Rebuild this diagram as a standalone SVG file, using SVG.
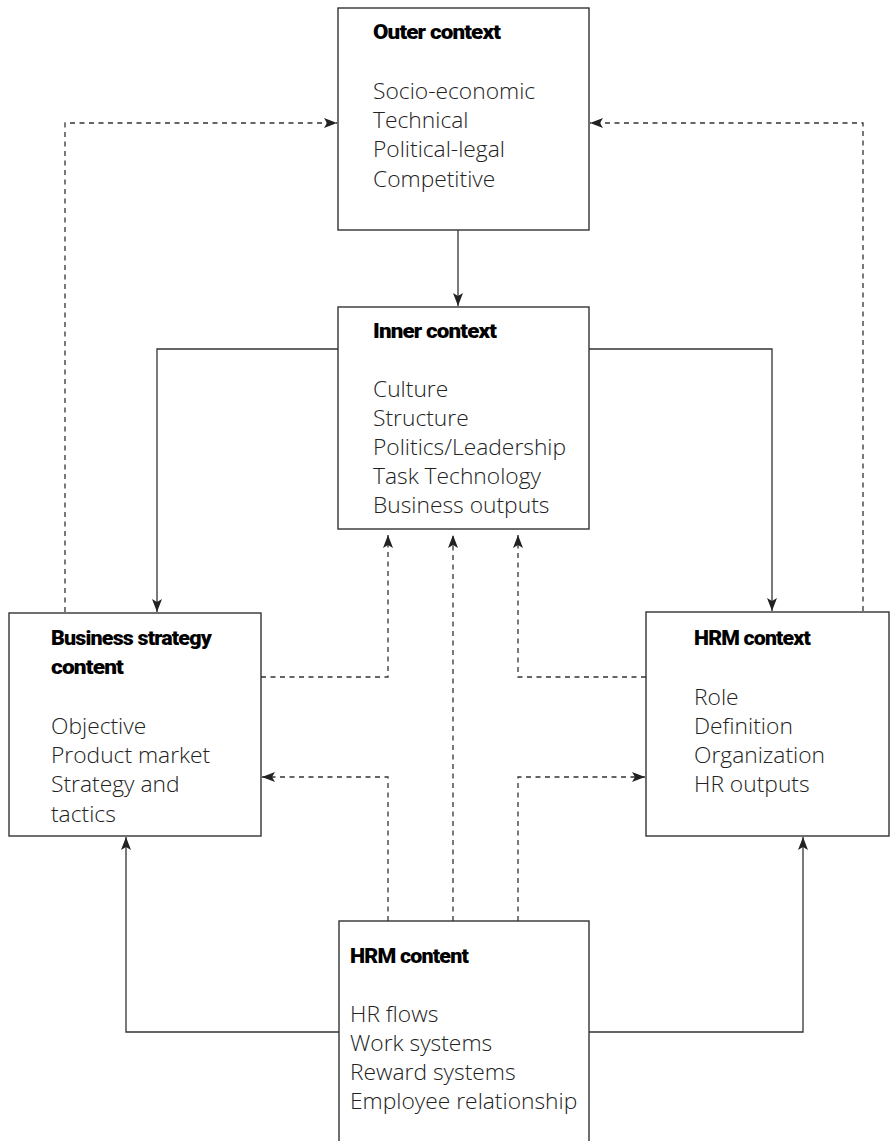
<svg xmlns="http://www.w3.org/2000/svg" width="890" height="1141" viewBox="0 0 890 1141">
<defs>
<style>
.box{fill:#fff;stroke:#333;stroke-width:1.4}
.t{font-family:Roboto,"Liberation Sans",sans-serif;font-weight:900;font-size:21px;fill:#000;letter-spacing:-0.8px}
.b{font-family:"Open Sans","Noto Sans",sans-serif;font-weight:300;font-size:22.8px;fill:#222}
.s{fill:none;stroke:#333;stroke-width:1.3}
.d{fill:none;stroke:#333;stroke-width:1.3;stroke-dasharray:5 4.5}
</style>
<marker id="ah" viewBox="0 0 13 10" refX="13" refY="5" markerWidth="13" markerHeight="10" markerUnits="userSpaceOnUse" orient="auto">
<path d="M0,0 L13,5 L0,10 L3,5 Z" fill="#222"/>
</marker>
</defs>
<rect width="890" height="1141" fill="#fff"/>
<g id="connectors">
<path class="s" d="M458,230 V306" marker-end="url(#ah)"/>
<path class="s" d="M338,349 H157 V612" marker-end="url(#ah)"/>
<path class="s" d="M589,349 H772 V611" marker-end="url(#ah)"/>
<path class="d" d="M65,612 V123 H337" marker-end="url(#ah)"/>
<path class="d" d="M863,611 V123 H590" marker-end="url(#ah)"/>
<path class="d" d="M261,677 H388 V535" marker-end="url(#ah)"/>
<path class="d" d="M646,677 H518 V535" marker-end="url(#ah)"/>
<path class="d" d="M453,921 V535" marker-end="url(#ah)"/>
<path class="d" d="M388,921 V777 H262" marker-end="url(#ah)"/>
<path class="d" d="M518,921 V777 H645" marker-end="url(#ah)"/>
<path class="s" d="M339,1032 H126 V837" marker-end="url(#ah)"/>
<path class="s" d="M589,1032 H803 V837" marker-end="url(#ah)"/>
</g>
<g id="outer-context">
<rect class="box" x="338" y="8" width="251" height="222"/>
<text class="t" x="373" y="39" textLength="127" lengthAdjust="spacingAndGlyphs">Outer context</text>
<text class="b" x="373" y="99">Socio-economic</text>
<text class="b" x="373" y="128">Technical</text>
<text class="b" x="373" y="157">Political-legal</text>
<text class="b" x="373" y="187">Competitive</text>
</g>
<g id="inner-context">
<rect class="box" x="338" y="307" width="251" height="222"/>
<text class="t" x="373" y="338" textLength="123" lengthAdjust="spacingAndGlyphs">Inner context</text>
<text class="b" x="373" y="397">Culture</text>
<text class="b" x="373" y="426">Structure</text>
<text class="b" x="373" y="455">Politics/Leadership</text>
<text class="b" x="373" y="484">Task Technology</text>
<text class="b" x="373" y="513">Business outputs</text>
</g>
<g id="business-strategy">
<rect class="box" x="9" y="613" width="252" height="223"/>
<text class="t" x="51" y="645" textLength="160" lengthAdjust="spacingAndGlyphs">Business strategy</text>
<text class="t" x="51" y="674" textLength="72" lengthAdjust="spacingAndGlyphs">content</text>
<text class="b" x="51" y="734">Objective</text>
<text class="b" x="51" y="763">Product market</text>
<text class="b" x="51" y="792">Strategy and</text>
<text class="b" x="51" y="822">tactics</text>
</g>
<g id="hrm-context">
<rect class="box" x="646" y="612" width="243" height="224"/>
<text class="t" x="694" y="645" textLength="116" lengthAdjust="spacingAndGlyphs">HRM context</text>
<text class="b" x="694" y="705">Role</text>
<text class="b" x="694" y="734">Definition</text>
<text class="b" x="694" y="763">Organization</text>
<text class="b" x="694" y="792">HR outputs</text>
</g>
<g id="hrm-content">
<rect class="box" x="339" y="921" width="250" height="230"/>
<text class="t" x="350" y="963" textLength="118" lengthAdjust="spacingAndGlyphs">HRM content</text>
<text class="b" x="350" y="1022">HR flows</text>
<text class="b" x="350" y="1051">Work systems</text>
<text class="b" x="350" y="1080">Reward systems</text>
<text class="b" x="350" y="1109">Employee relationship</text>
</g>
</svg>
